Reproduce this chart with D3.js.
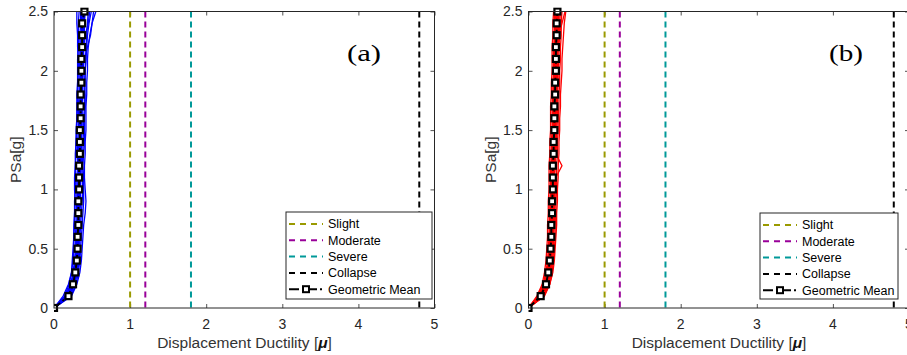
<!DOCTYPE html>
<html><head><meta charset="utf-8">
<script src="https://cdn.jsdelivr.net/npm/d3@7"></script>
<style>
html,body{margin:0;padding:0;background:#fff;}
svg{display:block;}
</style></head>
<body>
<svg id="chart" width="907" height="355"></svg>
<script>
// ---------- DATA ----------
const psaLevels = [0,0.1,0.2,0.3,0.4,0.5,0.6,0.7,0.8,0.9,1.0,1.1,1.2,1.3,1.4,1.5,1.6,1.7,1.8,1.9,2.0,2.1,2.2,2.3,2.4,2.5];
const xTicks = [0,1,2,3,4,5];
const yTicks = [0,0.5,1,1.5,2,2.5];
const stateNames = ["Slight","Moderate","Severe","Collapse"];
const stateDuctility = [1.0,1.2,1.8,4.8];
const meanLabel = "Geometric Mean";
const panelLabels = ["(a)","(b)"];

const meanA = [0,0.19,0.25,0.28,0.30,0.31,0.31,0.32,0.32,0.32,0.33,0.33,0.33,0.34,0.34,0.34,0.35,0.35,0.35,0.36,0.36,0.36,0.37,0.37,0.37,0.40];
const recordsA = [
 [0,0.15,0.22,0.26,0.28,0.29,0.30,0.30,0.31,0.31,0.31,0.32,0.32,0.32,0.33,0.33,0.33,0.34,0.34,0.34,0.35,0.35,0.35,0.36,0.36,0.36],
 [0,0.21,0.27,0.30,0.32,0.33,0.33,0.34,0.34,0.35,0.35,0.35,0.36,0.36,0.36,0.37,0.37,0.37,0.38,0.38,0.38,0.39,0.39,0.40,0.40,0.41],
 [0,0.18,0.24,0.27,0.29,0.30,0.31,0.31,0.32,0.32,0.33,0.33,0.33,0.34,0.34,0.35,0.35,0.36,0.36,0.37,0.38,0.40,0.44,0.48,0.50,0.52],
 [0,0.20,0.26,0.29,0.30,0.31,0.32,0.32,0.33,0.34,0.34,0.33,0.33,0.34,0.35,0.35,0.34,0.35,0.36,0.36,0.37,0.37,0.36,0.37,0.38,0.38],
 [0,0.17,0.23,0.27,0.29,0.30,0.30,0.31,0.31,0.32,0.32,0.32,0.33,0.33,0.33,0.34,0.34,0.34,0.35,0.35,0.35,0.36,0.36,0.36,0.37,0.37],
 [0,0.22,0.29,0.32,0.34,0.35,0.36,0.37,0.38,0.39,0.39,0.39,0.38,0.39,0.40,0.40,0.40,0.41,0.41,0.40,0.41,0.42,0.42,0.43,0.44,0.45],
 [0,0.14,0.20,0.23,0.25,0.26,0.26,0.27,0.27,0.27,0.28,0.28,0.28,0.29,0.29,0.29,0.30,0.30,0.30,0.31,0.31,0.31,0.32,0.32,0.32,0.33],
 [0,0.19,0.25,0.28,0.30,0.31,0.32,0.33,0.33,0.32,0.33,0.34,0.34,0.35,0.35,0.36,0.36,0.36,0.37,0.37,0.38,0.38,0.39,0.41,0.45,0.47],
 [0,0.20,0.26,0.29,0.31,0.32,0.32,0.33,0.33,0.33,0.34,0.34,0.35,0.35,0.35,0.36,0.36,0.37,0.37,0.37,0.38,0.38,0.38,0.39,0.39,0.40],
 [0,0.18,0.24,0.28,0.30,0.30,0.31,0.31,0.32,0.33,0.32,0.32,0.33,0.33,0.34,0.34,0.35,0.35,0.35,0.36,0.36,0.37,0.37,0.37,0.38,0.39],
 [0,0.12,0.19,0.23,0.24,0.25,0.26,0.26,0.27,0.28,0.27,0.27,0.28,0.28,0.29,0.30,0.30,0.31,0.31,0.31,0.32,0.32,0.31,0.31,0.30,0.30],
 [0,0.23,0.30,0.34,0.36,0.37,0.38,0.39,0.41,0.42,0.41,0.40,0.40,0.41,0.41,0.42,0.42,0.42,0.43,0.43,0.44,0.44,0.45,0.47,0.50,0.55],
 [0,0.19,0.25,0.29,0.31,0.31,0.32,0.32,0.32,0.33,0.33,0.34,0.34,0.34,0.35,0.35,0.36,0.36,0.36,0.37,0.37,0.37,0.38,0.38,0.38,0.39],
 [0,0.17,0.24,0.27,0.29,0.30,0.31,0.31,0.31,0.32,0.32,0.33,0.33,0.33,0.34,0.34,0.34,0.35,0.35,0.35,0.36,0.36,0.37,0.38,0.39,0.39],
 [0,0.16,0.22,0.25,0.27,0.28,0.28,0.29,0.29,0.30,0.30,0.30,0.31,0.31,0.31,0.32,0.32,0.32,0.33,0.33,0.33,0.34,0.34,0.34,0.35,0.35],
 [0,0.20,0.27,0.31,0.33,0.34,0.34,0.35,0.36,0.37,0.38,0.37,0.37,0.38,0.38,0.39,0.39,0.40,0.40,0.41,0.41,0.42,0.43,0.44,0.46,0.49]
];

const meanB = [0,0.16,0.23,0.26,0.28,0.29,0.30,0.30,0.31,0.31,0.32,0.32,0.32,0.33,0.33,0.34,0.34,0.34,0.35,0.35,0.36,0.36,0.36,0.37,0.37,0.38];
const recordsB = [
 [0,0.13,0.20,0.24,0.26,0.27,0.28,0.28,0.29,0.29,0.30,0.30,0.30,0.31,0.31,0.32,0.32,0.32,0.33,0.33,0.34,0.34,0.34,0.35,0.35,0.36],
 [0,0.18,0.25,0.28,0.30,0.31,0.32,0.32,0.33,0.33,0.34,0.34,0.35,0.35,0.35,0.36,0.36,0.36,0.37,0.37,0.38,0.38,0.38,0.39,0.39,0.40],
 [0,0.15,0.22,0.25,0.27,0.28,0.29,0.29,0.30,0.30,0.31,0.31,0.31,0.32,0.32,0.33,0.33,0.33,0.34,0.34,0.35,0.35,0.35,0.36,0.36,0.37],
 [0,0.20,0.27,0.30,0.32,0.33,0.33,0.34,0.34,0.35,0.35,0.36,0.44,0.36,0.37,0.37,0.38,0.38,0.38,0.39,0.39,0.40,0.40,0.41,0.41,0.42],
 [0,0.14,0.21,0.24,0.26,0.27,0.28,0.29,0.29,0.30,0.30,0.31,0.31,0.31,0.32,0.32,0.33,0.33,0.33,0.34,0.34,0.35,0.35,0.35,0.36,0.36],
 [0,0.17,0.24,0.27,0.29,0.30,0.31,0.31,0.32,0.32,0.33,0.33,0.33,0.34,0.34,0.35,0.35,0.35,0.36,0.36,0.37,0.37,0.38,0.40,0.44,0.48],
 [0,0.19,0.26,0.29,0.31,0.31,0.32,0.33,0.33,0.34,0.34,0.34,0.35,0.35,0.36,0.36,0.36,0.37,0.37,0.38,0.38,0.38,0.39,0.39,0.40,0.40],
 [0,0.16,0.22,0.26,0.28,0.29,0.29,0.30,0.31,0.31,0.31,0.32,0.32,0.33,0.33,0.33,0.34,0.34,0.35,0.35,0.35,0.36,0.36,0.37,0.37,0.37],
 [0,0.12,0.19,0.23,0.25,0.26,0.27,0.27,0.28,0.28,0.29,0.29,0.29,0.30,0.30,0.31,0.31,0.31,0.32,0.32,0.33,0.33,0.33,0.34,0.34,0.34],
 [0,0.21,0.28,0.31,0.33,0.34,0.35,0.35,0.36,0.36,0.37,0.37,0.37,0.38,0.38,0.39,0.39,0.40,0.40,0.41,0.41,0.42,0.42,0.43,0.43,0.44],
 [0,0.17,0.23,0.27,0.29,0.30,0.30,0.31,0.31,0.32,0.32,0.33,0.33,0.33,0.34,0.34,0.35,0.35,0.35,0.36,0.36,0.37,0.37,0.37,0.38,0.38],
 [0,0.15,0.23,0.26,0.28,0.29,0.30,0.30,0.31,0.32,0.31,0.31,0.32,0.33,0.34,0.33,0.33,0.34,0.35,0.36,0.35,0.35,0.36,0.37,0.38,0.38],
 [0,0.18,0.24,0.28,0.30,0.31,0.31,0.32,0.32,0.33,0.33,0.34,0.34,0.34,0.35,0.35,0.35,0.36,0.36,0.37,0.37,0.38,0.38,0.38,0.39,0.39],
 [0,0.14,0.22,0.25,0.27,0.28,0.29,0.30,0.30,0.31,0.31,0.32,0.32,0.32,0.33,0.33,0.34,0.34,0.34,0.35,0.35,0.36,0.36,0.36,0.37,0.38],
 [0,0.20,0.28,0.32,0.34,0.35,0.36,0.37,0.37,0.38,0.38,0.39,0.39,0.40,0.40,0.41,0.41,0.42,0.42,0.43,0.44,0.44,0.45,0.46,0.47,0.49],
 [0,0.11,0.18,0.21,0.23,0.24,0.25,0.25,0.26,0.26,0.27,0.27,0.27,0.28,0.28,0.29,0.29,0.29,0.30,0.30,0.31,0.31,0.31,0.32,0.32,0.33]
];

// ---------- STYLE / LAYOUT ----------
const sans = "'Liberation Sans', Arial, Helvetica, sans-serif";
const serif = "'Liberation Serif', 'Times New Roman', serif";
const stateColors = ["#9a9a00","#990099","#009999","#000000"];
const axisColor = "#262626";
const panels = [
  {left:54, right:434.5, records:recordsA, mean:meanA, color:"#0000ff", label:panelLabels[0], labelX:347,
   legend:{x:286, y:212, w:146, h:87}, clip:"clipA"},
  {left:528.5, right:909, records:recordsB, mean:meanB, color:"#ff0000", label:panelLabels[1], labelX:829,
   legend:{x:760, y:213, w:138, h:86}, clip:"clipB"}
];
const plotTop = 11.5, plotBottom = 308;

const svg = d3.select("#chart");
const defs = svg.append("defs");

panels.forEach(p => {
  const x = d3.scaleLinear().domain([0,5]).range([p.left, p.right]);
  const y = d3.scaleLinear().domain([0,2.5]).range([plotBottom, plotTop]);
  const g = svg.append("g").style("font-family", sans);

  defs.append("clipPath").attr("id", p.clip).append("rect")
    .attr("x", p.left).attr("y", plotTop - 4).attr("width", p.right - p.left).attr("height", plotBottom - plotTop + 8);

  // ticks (inward, all four sides)
  const tl = 4;
  const xb = d3.axisBottom(x).tickValues(xTicks).tickSizeInner(-tl).tickSizeOuter(0).tickFormat("");
  const xt = d3.axisTop(x).tickValues(xTicks).tickSizeInner(-tl).tickSizeOuter(0).tickFormat("");
  const yl = d3.axisLeft(y).tickValues(yTicks).tickSizeInner(-tl).tickSizeOuter(0).tickFormat("");
  const yr = d3.axisRight(y).tickValues(yTicks).tickSizeInner(-tl).tickSizeOuter(0).tickFormat("");
  [[xb,`translate(0,${plotBottom})`],[xt,`translate(0,${plotTop})`],[yl,`translate(${p.left},0)`],[yr,`translate(${p.right},0)`]].forEach(([a,t]) => {
    const ag = g.append("g").attr("transform", t).call(a);
    ag.select(".domain").remove();
    ag.selectAll("line").attr("stroke", axisColor).attr("stroke-width", 0.8);
  });

  // tick labels
  g.append("g").selectAll("text").data(xTicks).join("text")
    .attr("x", d => x(d)).attr("y", 328.5).attr("text-anchor","middle")
    .style("font-size", "14px").attr("fill", axisColor).text(d => d);
  g.append("g").selectAll("text").data(yTicks).join("text")
    .attr("x", p.left - 6).attr("y", d => y(d) + 4.8).attr("text-anchor","end")
    .style("font-size", "14px").attr("fill", axisColor).text(d => d);

  // axis labels
  const xl = g.append("text").attr("x", p.left + 190.5).attr("y", 348)
    .attr("text-anchor","middle").style("font-size", "15.5px").attr("fill", "#333");
  xl.append("tspan").text("Displacement Ductility [");
  xl.append("tspan").attr("font-weight","bold").attr("font-style","italic").attr("fill","#111").text("μ");
  xl.append("tspan").text("]");
  g.append("text").attr("transform", `translate(${p.left - 33},${(plotTop + plotBottom) / 2}) rotate(-90)`)
    .attr("text-anchor","middle").style("font-size", "15.5px").attr("fill", "#333").text("PSa[g]");

  // record curves
  const line = d3.line().x(d => x(d[0])).y(d => y(d[1]));
  const cg = g.append("g").attr("clip-path", `url(#${p.clip})`);
  cg.selectAll("path.rec").data(p.records).join("path").attr("class","rec")
    .attr("d", r => line(r.map((v,i) => [v, psaLevels[i]])))
    .attr("fill","none").attr("stroke", p.color).attr("stroke-width", 1.3);

  // damage state lines
  cg.selectAll("line.ds").data(stateDuctility).join("line").attr("class","ds")
    .attr("x1", d => x(d)).attr("x2", d => x(d)).attr("y1", plotTop).attr("y2", plotBottom)
    .attr("stroke", (d,i) => stateColors[i]).attr("stroke-width", 2).attr("stroke-dasharray","6,4");

  // geometric mean
  const meanPts = p.mean.map((v,i) => [v, psaLevels[i]]);
  cg.append("path").attr("d", line(meanPts)).attr("fill","none")
    .attr("stroke","#000").attr("stroke-width", 2).attr("stroke-dasharray","8,3,2,3");
  cg.selectAll("rect.mk").data(meanPts).join("rect").attr("class","mk")
    .attr("x", d => x(d[0]) - 3).attr("y", d => y(d[1]) - 3).attr("width", 6).attr("height", 6)
    .attr("fill","#fff").attr("stroke","#000").attr("stroke-width", 2.2);

  // frame
  g.append("rect").attr("x", p.left).attr("y", plotTop).attr("width", p.right - p.left).attr("height", plotBottom - plotTop)
    .attr("fill","none").attr("stroke", axisColor).attr("stroke-width", 1);

  // panel label
  g.append("text").attr("x", p.labelX).attr("y", 61).style("font-family", serif)
    .style("font-size", "24px").attr("fill","#000")
    .attr("textLength", 34).attr("lengthAdjust", "spacingAndGlyphs").text(p.label);

  // legend
  const L = p.legend;
  const lg = g.append("g");
  lg.append("rect").attr("x", L.x).attr("y", L.y).attr("width", L.w).attr("height", L.h)
    .attr("fill","#fff").attr("stroke", axisColor).attr("stroke-width", 1);
  const rowY = i => L.y + 12 + i * 16.3;
  const lx0 = L.x + 3, lx1 = L.x + 37, tx = L.x + 42;
  stateNames.forEach((n,i) => {
    lg.append("line").attr("x1", lx0).attr("x2", lx1).attr("y1", rowY(i)).attr("y2", rowY(i))
      .attr("stroke", stateColors[i]).attr("stroke-width", 2).attr("stroke-dasharray","6,5");
    lg.append("text").attr("x", tx).attr("y", rowY(i) + 4.3).style("font-size", "12.5px").attr("fill","#000").text(n);
  });
  const gy = rowY(4);
  lg.append("line").attr("x1", lx0).attr("x2", lx1).attr("y1", gy).attr("y2", gy)
    .attr("stroke","#000").attr("stroke-width", 2).attr("stroke-dasharray","10,3,2,3");
  lg.append("rect").attr("x", (lx0 + lx1) / 2 - 3).attr("y", gy - 3).attr("width", 6).attr("height", 6)
    .attr("fill","#fff").attr("stroke","#000").attr("stroke-width", 2);
  lg.append("text").attr("x", tx).attr("y", gy + 4.3).style("font-size", "12.5px").attr("fill","#000").text(meanLabel);
});
</script>
</body></html>
